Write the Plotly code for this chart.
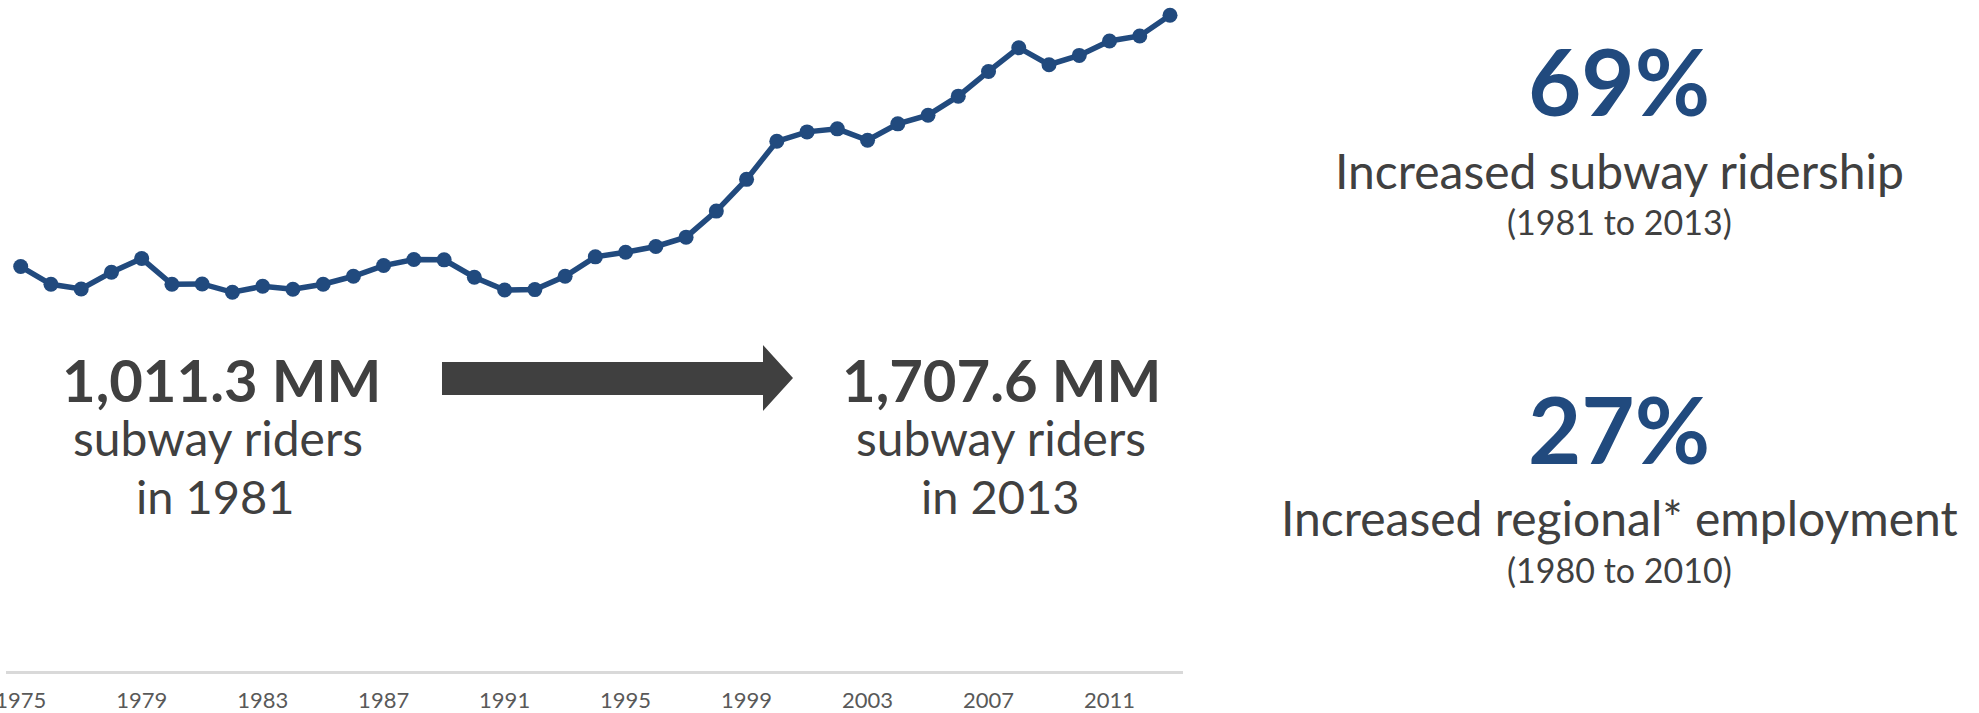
import plotly.graph_objects as go

# Annual subway ridership (millions of riders)
years = list(range(1975, 2014))
riders = [1056.3, 1010.4, 998.3, 1041.6, 1077.1, 1010.4, 1011.3, 989.6, 1005.2, 997.4,
          1010.4, 1031.2, 1058.9, 1074.5, 1073.7, 1028.6, 995.7, 996.6, 1031.2, 1081.5,
          1093.6, 1108.3, 1132.5, 1200.1, 1282.4, 1381.1, 1405.4, 1413.2, 1383.7, 1426.2,
          1448.7, 1498.0, 1562.1, 1623.6, 1579.5, 1603.7, 1641.0, 1653.9, 1707.6]
tick_years = [1975, 1979, 1983, 1987, 1991, 1995, 1999, 2003, 2007, 2011]

start_value = "1,011.3 MM"
end_value = "1,707.6 MM"
ridership_growth = "69%"
employment_growth = "27%"

W, H = 1979, 713
ML, MR, MT, MB = 6, 796, 0, 42
PW, PH = W - ML - MR, H - MT - MB

BLUE = "#214a7e"
DARK = "#404040"
FONT = "Lato, 'Open Sans', sans-serif"


def px(x):
    return (x - ML) / PW


def py(y):
    return 1 - (y - MT) / PH


fig = go.Figure()
fig.add_trace(go.Scatter(
    x=years, y=riders, mode="lines+markers",
    line=dict(color=BLUE, width=5.5),
    marker=dict(color=BLUE, size=15),
    hoverinfo="x+y", showlegend=False,
))

annotations = []


def label(text, x, y, size, color=DARK, weight=400):
    annotations.append(dict(
        text=text, xref="paper", yref="paper", x=px(x), y=py(y),
        xanchor="center", yanchor="middle", showarrow=False,
        font=dict(family=FONT, size=size, color=color, weight=weight),
    ))


label(start_value, 221, 379, 58, weight=700)
label("subway riders", 218, 437, 48)
label("in 1981", 215, 496, 47)
label(end_value, 1001, 379, 58, weight=700)
label("subway riders", 1001, 437, 48)
label("in 2013", 1000, 496, 47)

label(ridership_growth, 1619, 80, 92, color=BLUE, weight=700)
label("Increased subway ridership", 1619, 170, 48)
label("(1981 to 2013)", 1619, 222, 34)
label(employment_growth, 1619, 428, 92, color=BLUE, weight=700)
label("Increased regional* employment", 1619, 517, 48)
label("(1980 to 2010)", 1619, 569, 34)

# Block arrow between the two ridership figures
pts = [(442, 362), (763, 362), (763, 345), (793, 378), (763, 411), (763, 395), (442, 395)]
path = "M " + " L ".join(f"{px(a):.5f},{py(b):.5f}" for a, b in pts) + " Z"
shapes = [dict(type="path", xref="paper", yref="paper", path=path,
               fillcolor=DARK, line=dict(width=0))]

x_left = 1975 - 14.7 / 30.24
x_right = 2013 + 13 / 30.24
y_bottom = 8
y_top = y_bottom + 671 / 0.3858

fig.update_layout(
    width=W, height=H,
    margin=dict(l=ML, r=MR, t=MT, b=MB, autoexpand=False),
    paper_bgcolor="white", plot_bgcolor="white",
    annotations=annotations, shapes=shapes,
    xaxis=dict(
        range=[x_left, x_right], tickvals=tick_years,
        showgrid=False, zeroline=False, automargin=False,
        showline=True, linecolor="#d9d9d9", linewidth=3,
        ticks="", ticklabelstandoff=8, ticklabeloverflow="allow",
        tickfont=dict(family=FONT, size=22, color="#595959"),
    ),
    yaxis=dict(range=[y_bottom, y_top], visible=False, showgrid=False,
               zeroline=False, automargin=False),
)

fig.write_html("out.html")
